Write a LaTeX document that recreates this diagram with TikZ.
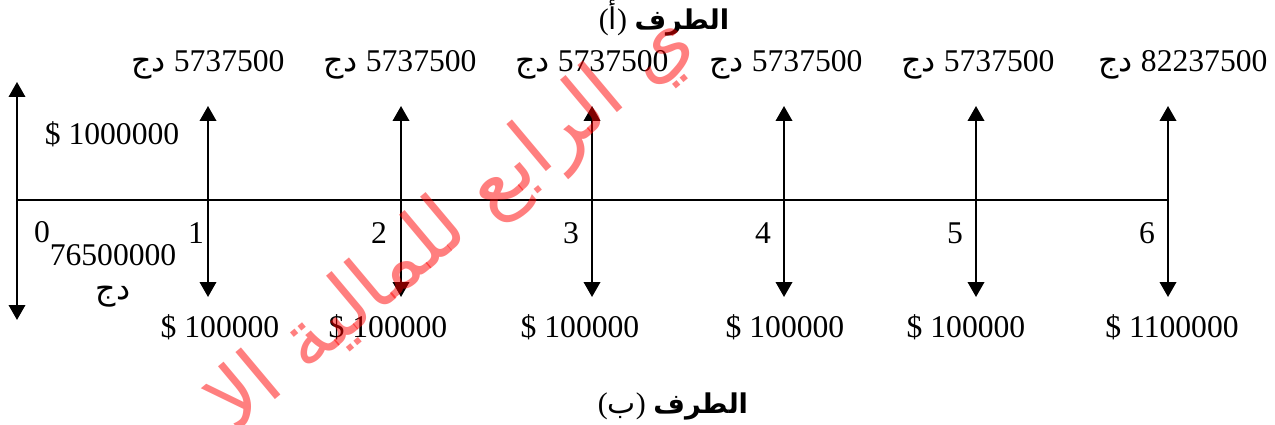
\documentclass[tikz,border=0pt]{standalone}
\usepackage{fontspec}
\setmainfont{Liberation Serif}
\newfontfamily\arabicfont[Script=Arabic]{DejaVu Sans}
\TeXXeTstate=1
\usetikzlibrary{positioning, arrows.meta}
\newcommand{\ar}[1]{{\arabicfont\beginR #1\endR}}

\begin{document}
\begin{tikzpicture}[x=0.02cm, y=-0.02cm, font=\fontsize{18}{20}\selectfont,
    flow/.style={{Triangle[length=0.3cm,width=0.33cm]}-{Triangle[length=0.3cm,width=0.33cm]}, line width=1.2pt},
    title/.style={font=\fontsize{17}{20}\selectfont}]
    \useasboundingbox (0,0) rectangle (1275,425);
    % Titles
    \node[title] (partA) at (664,18) {(\ar{أ}) {\fontsize{15.5}{18}\selectfont\bfseries\ar{الطرف}}};
    \node[title] (partB) at (673,406) {(\ar{ب}) {\fontsize{15.5}{18}\selectfont\bfseries\ar{الطرف}}};
    % Time line
    \coordinate (start) at (17,200);
    \coordinate (end) at (1168,200);
    \draw[line width=1.2pt] (start) -- (end);
    % Period 0
    \coordinate (up0) at (17,82);
    \coordinate (dn0) at (17,320);
    \draw[flow] (dn0) -- (up0);
    \node (num0) at (42,232) {0};
    \node (loan) at (112,134) {\$ 1000000};
    \node (pay0) at (113,255) {76500000};
    \node (cur0) at (113,297) {\ar{دج}};
    % Periods 1 to 6
    \foreach \i/\x/\nx/\tx/\t/\bx/\b in {1/208/196/208/5737500/220/100000, 2/401/379/400/5737500/388/100000,
        3/592/571/592/5737500/580/100000, 4/784/763/786/5737500/785/100000,
        5/976/955/978/5737500/966/100000, 6/1168/1147/1183/82237500/1172/1100000} {
      \coordinate (up\i) at (\x,106);
      \coordinate (dn\i) at (\x,297);
      \draw[flow] (dn\i) -- (up\i);
      \node (num\i) at (\nx,233) {\i};
      \node (top\i) at (\tx,65) {\ar{دج} \t};
      \node (bot\i) at (\bx,327) {\$ \b};
    }
    % Watermark
    \node[rotate=40, text=red, text opacity=0.5, font=\fontsize{46}{50}\selectfont] (mark) at (452,224) {\ar{ي الرابع للمالية الا}};
\end{tikzpicture}
\end{document}
